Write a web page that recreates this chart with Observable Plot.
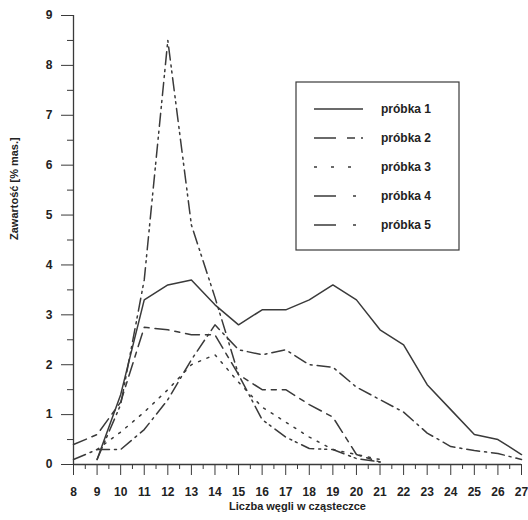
<!DOCTYPE html>
<html>
<head>
<meta charset="utf-8">
<script src="https://cdn.jsdelivr.net/npm/d3@7"></script>
<script src="https://cdn.jsdelivr.net/npm/@observablehq/plot@0.6"></script>
<style>
  html, body { margin: 0; padding: 0; background: #fff; }
  #chart { width: 528px; height: 520px; }
</style>
</head>
<body>
<div id="chart"></div>
<script>
const carbons = [8, 9, 10, 11, 12, 13, 14, 15, 16, 17, 18, 19, 20, 21, 22, 23, 24, 25, 26, 27];
const sample1 = [null, 0.1, 1.4, 3.3, 3.6, 3.7, 3.2, 2.8, 3.1, 3.1, 3.3, 3.6, 3.3, 2.7, 2.4, 1.6, 1.1, 0.6, 0.5, 0.2];
const sample2 = [0.4, 0.6, 1.25, 2.75, 2.7, 2.6, 2.6, 1.8, 1.5, 1.5, 1.2, 0.95, 0.2, 0.05, null, null, null, null, null, null];
const sample3 = [null, 0.3, 0.65, 1.05, 1.5, 2.0, 2.2, 1.65, 1.15, 0.85, 0.55, 0.3, 0.2, 0.1, null, null, null, null, null, null];
const sample4 = [0.1, 0.3, 0.3, 0.7, 1.3, 2.1, 2.8, 2.3, 2.2, 2.3, 2.0, 1.95, 1.55, 1.3, 1.05, 0.63, 0.36, 0.28, 0.22, 0.1];
const sample5 = [null, 0.1, 1.2, 3.7, 8.5, 4.8, 3.35, 1.8, 0.9, 0.55, 0.32, 0.3, 0.12, 0.05, null, null, null, null, null, null];
const seriesNames = ["próbka 1", "próbka 2", "próbka 3", "próbka 4", "próbka 5"];
const seriesValues = [sample1, sample2, sample3, sample4, sample5];
const yMajor = [0, 1, 2, 3, 4, 5, 6, 7, 8, 9];
const yMinor = [0.5, 1.5, 2.5, 3.5, 4.5, 5.5, 6.5, 7.5, 8.5];
const xMajor = carbons;
const xMinor = carbons.slice(0, -1).map(c => c + 0.5);
const xTitle = "Liczba węgli w cząsteczce";
const yTitle = "Zawartość [% mas.]";

const dashes = [null, "14,6,5,6", "2,7", "13,5,2,5", "13,5,2,4,2,5"];
const legendDashes = [null, "22,11,8,6", "3,14", "22,17,3,8", "22,17,3,8"];
const ink = "#3a3a3a";
const font = "'Liberation Sans', Arial, sans-serif";

const tables = seriesValues.map(vals => carbons.map((c, i) => ({c, v: vals[i]})).filter(d => d.v != null));

const plot = Plot.plot({
  width: 528, height: 520,
  marginLeft: 73, marginRight: 7, marginTop: 15, marginBottom: 56,
  style: {fontFamily: font, fontSize: "12px", fontWeight: "bold", color: ink, background: "#fff"},
  x: {domain: [8, 27]},
  y: {domain: [0, 9]},
  marks: [
    Plot.axisY({ticks: yMajor, tickSize: 12, tickPadding: 9, label: null, stroke: ink, fill: "#222", fontWeight: "bold", fontSize: 12}),
    Plot.axisY({ticks: yMinor, tickSize: 6, tickFormat: () => "", label: null, stroke: ink}),
    Plot.axisX({ticks: xMajor, tickSize: 11, tickPadding: 12, label: null, stroke: ink, fill: "#222", fontWeight: "bold", fontSize: 12, tickFormat: d => String(d)}),
    Plot.axisX({ticks: xMinor, tickSize: 5, tickFormat: () => "", label: null, stroke: ink}),
    Plot.ruleX([8], {y1: 0, y2: 9, stroke: ink, strokeWidth: 1.3}),
    Plot.ruleY([0], {x1: 8, x2: 27, stroke: ink, strokeWidth: 1.3}),
    ...tables.map((t, i) => Plot.line(t, {x: "c", y: "v", stroke: ink, strokeWidth: 1.5, strokeDasharray: dashes[i]})),
    Plot.text([yTitle], {frameAnchor: "left", rotate: -90, dx: -59, fill: "#222", fontWeight: "bold", fontSize: 11}),
    Plot.text([xTitle], {frameAnchor: "bottom", dy: 45, fill: "#222", fontWeight: "bold", fontSize: 11})
  ]
});
document.getElementById("chart").appendChild(plot);

// legend box
const svg = d3.select(plot);
const lg = svg.append("g").attr("class", "legend");
lg.append("rect").attr("x", 296).attr("y", 82).attr("width", 163).attr("height", 168)
  .attr("fill", "#fff").attr("stroke", ink).attr("stroke-width", 1.2);
seriesNames.forEach((name, i) => {
  const yy = 109 + i * 29;
  lg.append("line").attr("x1", 314).attr("x2", 363).attr("y1", yy).attr("y2", yy)
    .attr("stroke", ink).attr("stroke-width", 1.5)
    .attr("stroke-dasharray", legendDashes[i]);
  lg.append("text").attr("x", 381).attr("y", yy).attr("dy", "0.35em")
    .attr("text-anchor", "start")
    .attr("font-family", font).attr("font-size", 12).attr("font-weight", "bold")
    .attr("fill", "#222").text(name);
});
</script>
</body>
</html>
